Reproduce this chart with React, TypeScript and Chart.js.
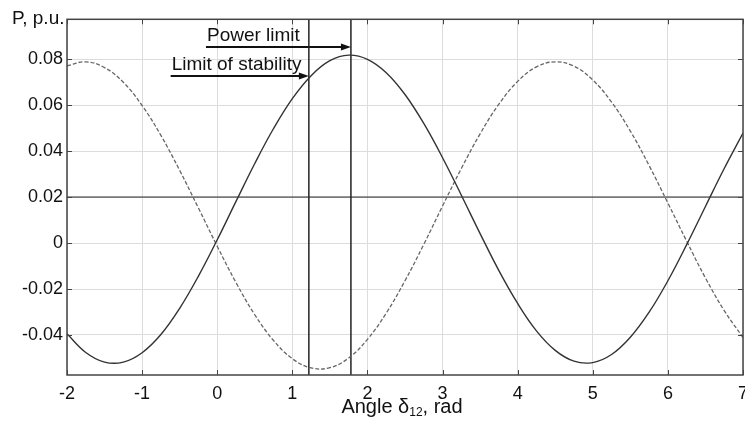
import { useEffect, useRef } from "react";
import { Chart, registerables } from "chart.js";

Chart.register(...registerables);

// Angle samples (rad)
const ANGLES = [
  -2, -1.75, -1.5, -1.25, -1, -0.75, -0.5, -0.25, 0, 0.25, 0.5, 0.75, 1, 1.25, 1.5, 1.75,
  2, 2.25, 2.5, 2.75, 3, 3.25, 3.5, 3.75, 4, 4.25, 4.5, 4.75, 5, 5.25, 5.5, 5.75, 6, 6.25,
  6.5, 6.75, 7,
];
// Solid curve, P (p.u.)
const P_SOLID = [
  -0.0395, -0.0476, -0.0518, -0.0518, -0.0477, -0.0398, -0.0284, -0.0144, 0.0014, 0.0181,
  0.0346, 0.0498, 0.0628, 0.0728, 0.0793, 0.0817, 0.0799, 0.0741, 0.0646, 0.052, 0.0371,
  0.0208, 0.0041, -0.012, -0.0263, -0.0382, -0.0467, -0.0514, -0.052, -0.0485, -0.041,
  -0.0301, -0.0164, -0.0007, 0.0159, 0.0324, 0.0478,
];
// Dashed curve, P (p.u.)
const P_DASHED = [
  0.0771, 0.0788, 0.0763, 0.0699, 0.0598, 0.0468, 0.0316, 0.0152, -0.0014, -0.0172,
  -0.0312, -0.0424, -0.0503, -0.0543, -0.0542, -0.05, -0.0419, -0.0305, -0.0164, -0.0006,
  0.0161, 0.0324, 0.0475, 0.0604, 0.0703, 0.0766, 0.0788, 0.0769, 0.0709, 0.0613, 0.0487,
  0.0337, 0.0174, 0.0008, -0.0152, -0.0294, -0.0411,
];

const X_TICKS = [-2, -1, 0, 1, 2, 3, 4, 5, 6, 7];
const Y_TICKS = [-0.04, -0.02, 0, 0.02, 0.04, 0.06, 0.08];
const X_RANGE = [-2, 7];
const Y_RANGE = [-0.0574, 0.0973];

const REF_LEVEL = 0.02;
const STABILITY_ANGLE = 1.22;
const POWER_LIMIT_ANGLE = 1.78;
const ARROW_LABELS = ["Power limit", "Limit of stability"];
const ARROW_START_X = [-0.15, -0.62];
const ARROW_Y = [0.0853, 0.0726];

const Y_TITLE = "P, p.u.";
const X_TITLE_PARTS = ["Angle δ", "12", ", rad"];

const FONT = "'Liberation Sans', Arial, sans-serif";

export default function App() {
  const ref = useRef<HTMLCanvasElement | null>(null);

  useEffect(() => {
    if (!ref.current) return;

    const decor = {
      id: "decor",
      afterDatasetsDraw(chart: any) {
        const { ctx, chartArea: a, scales } = chart;
        const xs = scales.x;
        const ys = scales.y;
        ctx.save();
        // arrowheads and labels
        const ends = [POWER_LIMIT_ANGLE, STABILITY_ANGLE];
        ctx.fillStyle = "#111";
        for (let i = 0; i < ARROW_LABELS.length; i++) {
          const tipX = xs.getPixelForValue(ends[i]);
          const py = ys.getPixelForValue(ARROW_Y[i]);
          ctx.beginPath();
          ctx.moveTo(tipX, py);
          ctx.lineTo(tipX - 10, py - 3.5);
          ctx.lineTo(tipX - 10, py + 3.5);
          ctx.closePath();
          ctx.fill();
          const sx = xs.getPixelForValue(ARROW_START_X[i]);
          ctx.font = `19px ${FONT}`;
          ctx.textAlign = "left";
          ctx.textBaseline = "alphabetic";
          ctx.fillText(ARROW_LABELS[i], sx + 1, py - 6);
        }
        // frame
        ctx.strokeStyle = "#444";
        ctx.lineWidth = 1.5;
        ctx.strokeRect(a.left, a.top, a.right - a.left, a.bottom - a.top);
        // inner ticks
        ctx.lineWidth = 1;
        ctx.strokeStyle = "#444";
        const tl = 5;
        ctx.beginPath();
        for (const v of X_TICKS) {
          const px = Math.round(xs.getPixelForValue(v)) + 0.5;
          ctx.moveTo(px, a.bottom);
          ctx.lineTo(px, a.bottom - tl);
          ctx.moveTo(px, a.top);
          ctx.lineTo(px, a.top + tl);
        }
        for (const v of Y_TICKS) {
          const py = Math.round(ys.getPixelForValue(v)) + 0.5;
          ctx.moveTo(a.left, py);
          ctx.lineTo(a.left + tl, py);
          ctx.moveTo(a.right, py);
          ctx.lineTo(a.right - tl, py);
        }
        ctx.stroke();
        // titles
        ctx.fillStyle = "#111";
        ctx.font = `19px ${FONT}`;
        ctx.textAlign = "left";
        ctx.textBaseline = "alphabetic";
        ctx.fillText(Y_TITLE, 12, 24);

        const big = `20px ${FONT}`;
        const small = `12px ${FONT}`;
        ctx.font = big;
        const w0 = ctx.measureText(X_TITLE_PARTS[0]).width;
        const w2 = ctx.measureText(X_TITLE_PARTS[2]).width;
        ctx.font = small;
        const w1 = ctx.measureText(X_TITLE_PARTS[1]).width;
        const total = w0 + w1 + w2;
        const cx = 402;
        let x0 = cx - total / 2;
        const base = 413;
        ctx.font = big;
        ctx.fillText(X_TITLE_PARTS[0], x0, base);
        x0 += w0;
        ctx.font = small;
        ctx.fillText(X_TITLE_PARTS[1], x0, base + 3);
        x0 += w1;
        ctx.font = big;
        ctx.fillText(X_TITLE_PARTS[2], x0, base);
        ctx.restore();
      },
    };

    const toXY = (ys: number[]) => ANGLES.map((x, i) => ({ x, y: ys[i] }));

    const chart = new Chart(ref.current, {
      type: "line",
      data: {
        datasets: [
          {
            data: toXY(P_SOLID),
            borderColor: "#333",
            borderWidth: 1.4,
            pointRadius: 0,
            tension: 0.4,
          },
          {
            data: toXY(P_DASHED),
            borderColor: "#666",
            borderWidth: 1.3,
            borderDash: [4, 2],
            pointRadius: 0,
            tension: 0.4,
          },
          {
            data: [
              { x: X_RANGE[0], y: REF_LEVEL },
              { x: X_RANGE[1], y: REF_LEVEL },
            ],
            borderColor: "#222",
            borderWidth: 1,
            pointRadius: 0,
          },
          {
            data: [
              { x: STABILITY_ANGLE, y: Y_RANGE[0] },
              { x: STABILITY_ANGLE, y: Y_RANGE[1] },
            ],
            borderColor: "#222",
            borderWidth: 1.5,
            pointRadius: 0,
          },
          {
            data: [
              { x: POWER_LIMIT_ANGLE, y: Y_RANGE[0] },
              { x: POWER_LIMIT_ANGLE, y: Y_RANGE[1] },
            ],
            borderColor: "#222",
            borderWidth: 1.5,
            pointRadius: 0,
          },
          {
            data: [
              { x: ARROW_START_X[0], y: ARROW_Y[0] },
              { x: POWER_LIMIT_ANGLE - 0.05, y: ARROW_Y[0] },
            ],
            borderColor: "#111",
            borderWidth: 2,
            pointRadius: 0,
          },
          {
            data: [
              { x: ARROW_START_X[1], y: ARROW_Y[1] },
              { x: STABILITY_ANGLE - 0.05, y: ARROW_Y[1] },
            ],
            borderColor: "#111",
            borderWidth: 2,
            pointRadius: 0,
          },
        ],
      },
      options: {
        animation: false,
        responsive: true,
        maintainAspectRatio: false,
        layout: { padding: { left: 0, top: 19.3, right: 2, bottom: 0 } },
        plugins: {
          legend: { display: false },
          tooltip: { enabled: false },
        },
        scales: {
          x: {
            type: "linear",
            min: X_RANGE[0],
            max: X_RANGE[1],
            afterBuildTicks: (s: any) => {
              s.ticks = X_TICKS.map((v) => ({ value: v }));
            },
            afterFit: (s: any) => {
              s.height = 50;
              s.paddingLeft = 0;
              s.paddingRight = 0;
            },
            grid: { color: "#dcdcdc", lineWidth: 1, drawTicks: false },
            border: { display: false },
            ticks: {
              padding: 8,
              color: "#111",
              font: { family: FONT, size: 18 },
              maxRotation: 0,
              autoSkip: false,
              callback: (v: any) => String(v),
            },
          },
          y: {
            type: "linear",
            min: Y_RANGE[0],
            max: Y_RANGE[1],
            afterBuildTicks: (s: any) => {
              s.ticks = Y_TICKS.map((v) => ({ value: v }));
            },
            afterFit: (s: any) => {
              s.width = 67;
              s.paddingTop = 0;
              s.paddingBottom = 0;
            },
            grid: { color: "#dcdcdc", lineWidth: 1, drawTicks: false },
            border: { display: false },
            ticks: {
              padding: 4,
              color: "#111",
              font: { family: FONT, size: 18 },
              autoSkip: false,
              callback: (v: any) => (Math.abs(v) < 1e-9 ? "0" : Number(v).toFixed(2)),
            },
          },
        },
      },
      plugins: [decor],
    } as any);

    return () => chart.destroy();
  }, []);

  return (
    <div style={{ position: "absolute", left: 0, top: 0, width: 745, height: 425, background: "#fff" }}>
      <canvas ref={ref} />
    </div>
  );
}
